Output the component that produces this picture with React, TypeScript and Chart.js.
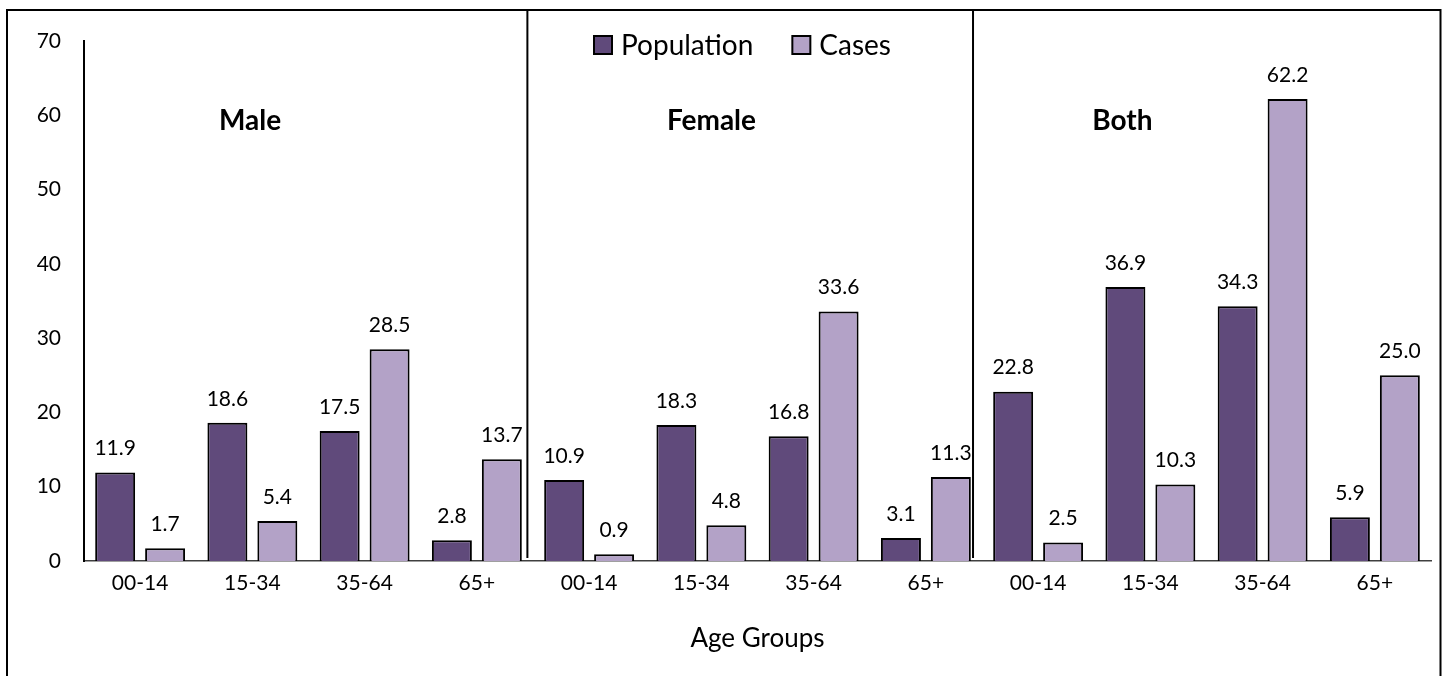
import React, { useEffect, useRef } from "react";
import { Chart, registerables } from "chart.js";

Chart.register(...registerables);

// ── Data ──────────────────────────────────────────────────────
const ageGroups = ["00-14", "15-34", "35-64", "65+"];
const sections = ["Male", "Female", "Both"];
const categories = [...ageGroups, ...ageGroups, ...ageGroups];

const population = [11.9, 18.6, 17.5, 2.8, 10.9, 18.3, 16.8, 3.1, 22.8, 36.9, 34.3, 5.9];
const cases = [1.7, 5.4, 28.5, 13.7, 0.9, 4.8, 33.6, 11.3, 2.5, 10.3, 62.2, 25.0];

const yMin = 0;
const yMax = 70;
const yStep = 10;

// ── Layout bits (in category units / value units) ─────────────
const sectionLabelPos = [0.98, 5.09, 8.75];
const sectionLabelValue = 59.2;
const separatorPos = [3.45, 7.42];

const FONT = "Lato, 'Noto Sans', sans-serif";
const POP_COLOR = "#604A7B";
const CASES_COLOR = "#B3A2C7";

// ── Overlay: value labels, section names, separators, legend, frame
const overlayPlugin = {
  id: "overlay",
  afterDatasetsDraw(chart: Chart) {
    const { ctx, chartArea, scales } = chart;
    const ys = scales.y;
    const catW = (chartArea.right - chartArea.left) / categories.length;
    const catX = (p: number) => chartArea.left + (p + 0.5) * catW;

    ctx.save();

    // value labels
    ctx.fillStyle = "#000";
    ctx.textAlign = "center";
    ctx.textBaseline = "middle";
    ctx.font = `21px ${FONT}`;
    chart.data.datasets.forEach((ds, i) => {
      chart.getDatasetMeta(i).data.forEach((bar: any, j: number) => {
        ctx.fillText(Number(ds.data[j]).toFixed(1), bar.x, bar.y - 24);
      });
    });

    // section names
    ctx.font = `bold 28px ${FONT}`;
    sections.forEach((s, k) => {
      ctx.fillText(s, catX(sectionLabelPos[k]), ys.getPixelForValue(sectionLabelValue));
    });

    // separators
    ctx.strokeStyle = "#000";
    ctx.lineWidth = 2;
    separatorPos.forEach((p) => {
      const px = catX(p);
      ctx.beginPath();
      ctx.moveTo(px, 10);
      ctx.lineTo(px, chartArea.bottom - 3);
      ctx.stroke();
    });

    // legend
    ctx.font = `28px ${FONT}`;
    ctx.textAlign = "left";
    const box = 18, gapIn = 9, gapOut = 39;
    const items = chart.data.datasets.map((ds) => ({
      label: String(ds.label),
      color: String(ds.backgroundColor),
      w: ctx.measureText(String(ds.label)).width,
    }));
    const total = items.reduce((a, it) => a + box + gapIn + it.w, 0) + gapOut * (items.length - 1);
    let lx = (chartArea.left + chartArea.right) / 2 - 15 - total / 2;
    const ly = 45;
    items.forEach((it) => {
      ctx.fillStyle = it.color;
      ctx.fillRect(lx, ly - box / 2, box, box);
      ctx.lineWidth = 2;
      ctx.strokeStyle = "#000";
      ctx.strokeRect(lx, ly - box / 2, box, box);
      ctx.fillStyle = "#000";
      ctx.fillText(it.label, lx + box + gapIn, ly + 1);
      lx += box + gapIn + it.w + gapOut;
    });

    // frame
    ctx.lineWidth = 2;
    ctx.strokeStyle = "#000";
    ctx.strokeRect(7, 10, 1433.5, 700);

    ctx.restore();
  },
};

// ── Main component ────────────────────────────────────────────
const App: React.FC = () => {
  const canvasRef = useRef<HTMLCanvasElement>(null);

  useEffect(() => {
    if (!canvasRef.current) return;

    const chart = new Chart(canvasRef.current, {
      type: "bar",
      data: {
        labels: categories,
        datasets: [
          {
            label: "Population",
            data: population,
            backgroundColor: POP_COLOR,
            borderColor: "#000",
            borderWidth: 2,
            categoryPercentage: 0.89,
            barPercentage: 0.8,
          },
          {
            label: "Cases",
            data: cases,
            backgroundColor: CASES_COLOR,
            borderColor: "#000",
            borderWidth: 2,
            categoryPercentage: 0.89,
            barPercentage: 0.8,
          },
        ],
      },
      options: {
        responsive: true,
        maintainAspectRatio: false,
        animation: false,
        layout: { padding: { left: 0, top: 41, right: 17, bottom: 0 } },
        plugins: {
          legend: { display: false },
          tooltip: { enabled: false },
        },
        scales: {
          x: {
            grid: { display: false, drawTicks: false },
            border: { display: true, color: "#404040", width: 1.5 },
            ticks: {
              color: "#000",
              font: { family: FONT, size: 21 },
              padding: 10,
              maxRotation: 0,
              autoSkip: false,
            },
            title: {
              display: true,
              text: "Age Groups",
              color: "#000",
              font: { family: FONT, size: 26 },
              padding: { top: 0, bottom: 22 },
            },
            afterFit: (scale: any) => {
              scale.height = 115;
            },
          },
          y: {
            min: yMin,
            max: yMax,
            grid: { display: false, drawTicks: false },
            border: { display: true, color: "#000", width: 2 },
            ticks: {
              stepSize: yStep,
              color: "#000",
              font: { family: FONT, size: 21 },
              padding: 23,
            },
            afterFit: (scale: any) => {
              scale.width = 84;
            },
          },
        },
      },
      plugins: [overlayPlugin],
    });

    return () => chart.destroy();
  }, []);

  return (
    <div
      style={{
        position: "fixed",
        left: 0,
        top: 0,
        width: 1448,
        height: 676,
        background: "#fff",
        overflow: "hidden",
      }}
    >
      <canvas ref={canvasRef} />
    </div>
  );
};

export default App;
